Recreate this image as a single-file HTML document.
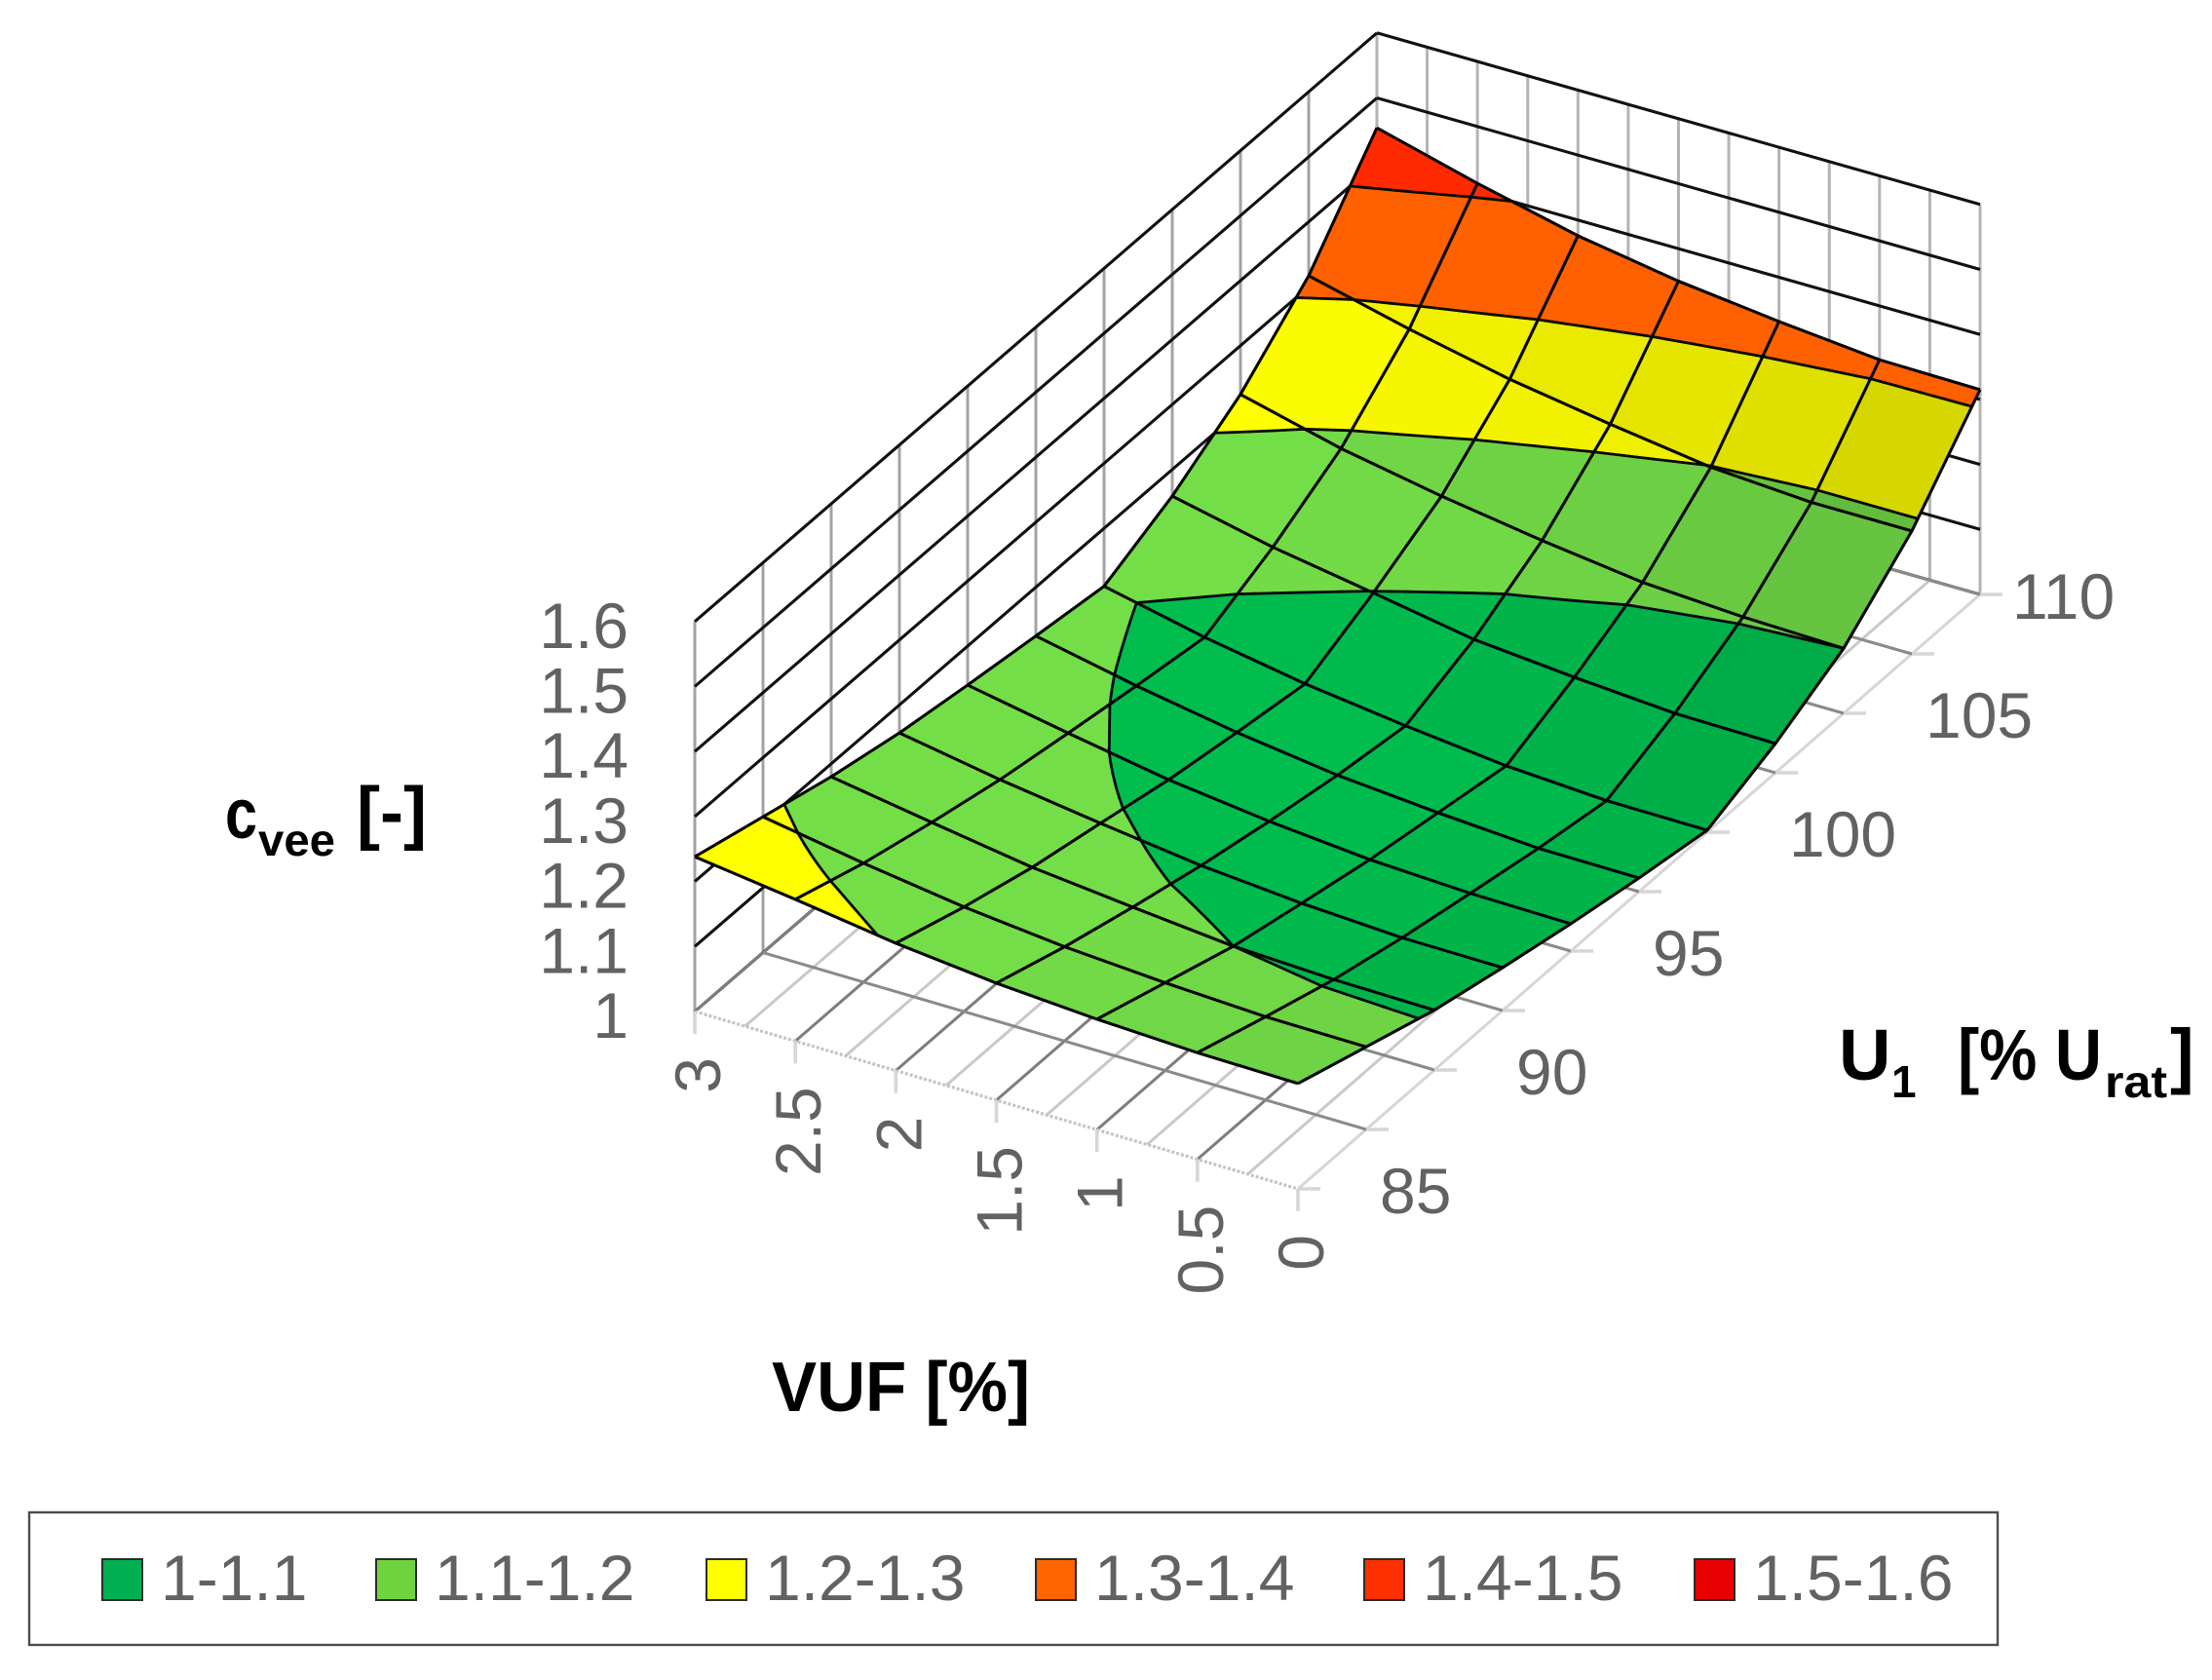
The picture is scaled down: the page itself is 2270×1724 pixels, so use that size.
<!DOCTYPE html>
<html lang="en">
<head>
<meta charset="utf-8">
<title>cvee surface chart</title>
<style>
  html, body { margin: 0; padding: 0; background: #ffffff; }
  body { width: 2270px; height: 1724px; overflow: hidden; }
  svg { display: block; font-family: "Liberation Sans", Arial, sans-serif; }
  .tick { fill: #626262; font-size: 66px; }
  .title { fill: #000000; font-weight: bold; }
</style>
</head>
<body>
<svg id="chart" xmlns="http://www.w3.org/2000/svg" width="2270" height="1724" viewBox="0 0 2270 1724">
  <g id="walls"></g>
  <g id="floor"></g>
  <g id="surface"></g>
  <g id="contours"></g>
  <g id="mesh"></g>
  <g id="labels"></g>

  <g>
    <text class="title" x="231" y="860" font-size="72" textLength="33" lengthAdjust="spacingAndGlyphs">c</text>
    <text class="title" x="265" y="878" font-size="46" textLength="79" lengthAdjust="spacingAndGlyphs">vee</text>
    <text class="title" x="366" y="858" font-size="72">[-]</text>
  </g>
  <text class="title" x="792" y="1448" font-size="72" textLength="265" lengthAdjust="spacingAndGlyphs">VUF [%]</text>
  <g>
    <text class="title" x="1887" y="1108" font-size="74">U</text>
    <text class="title" x="1941" y="1126" font-size="46">1</text>
    <text class="title" x="2009" y="1108" font-size="74" textLength="148" lengthAdjust="spacingAndGlyphs">[% U</text>
    <text class="title" x="2160" y="1126" font-size="46" textLength="64" lengthAdjust="spacingAndGlyphs">rat</text>
    <text class="title" x="2227" y="1108" font-size="74">]</text>
  </g>

  <rect x="30" y="1552" width="2020" height="136" fill="#ffffff" stroke="#4d4d4d" stroke-width="2.4"/>
  <g id="legend"></g>
</svg>

<script>
// ---- chart data ----
const vufValues = [0, 0.5, 1, 1.5, 2, 2.5, 3];
const voltageValues = [85, 87.5, 90, 92.5, 95, 97.5, 100, 102.5, 105, 107.5, 110];
const cveeAtVuf0   = [1.162, 1.127, 1.092, 1.066, 1.042, 1.021, 1.003, 1.045, 1.100, 1.189, 1.315];
const cveeAtVuf05  = [1.164, 1.128, 1.094, 1.067, 1.044, 1.022, 1.004, 1.047, 1.104, 1.189, 1.317];
const cveeAtVuf1   = [1.170, 1.135, 1.100, 1.075, 1.051, 1.032, 1.013, 1.058, 1.113, 1.199, 1.332];
const cveeAtVuf15  = [1.180, 1.145, 1.115, 1.088, 1.065, 1.045, 1.030, 1.072, 1.133, 1.221, 1.350];
const cveeAtVuf2   = [1.196, 1.161, 1.131, 1.108, 1.084, 1.066, 1.050, 1.099, 1.157, 1.246, 1.376];
const cveeAtVuf25  = [1.218, 1.183, 1.155, 1.130, 1.111, 1.093, 1.077, 1.125, 1.186, 1.279, 1.4125];
const cveeAtVuf3   = [1.238, 1.209, 1.180, 1.157, 1.140, 1.125, 1.111, 1.159, 1.225, 1.317, 1.454];
const cveeSeries = [cveeAtVuf0, cveeAtVuf05, cveeAtVuf1, cveeAtVuf15, cveeAtVuf2, cveeAtVuf25, cveeAtVuf3];

const zTickLabels = ["1", "1.1", "1.2", "1.3", "1.4", "1.5", "1.6"];
const vufTickLabels = ["0", "0.5", "1", "1.5", "2", "2.5", "3"];
const voltageTickLabels = ["85", "90", "95", "100", "105", "110"];
const vufGridValues = [0, 0.25, 0.5, 0.75, 1, 1.25, 1.5, 1.75, 2, 2.25, 2.5, 2.75, 3];
const bandEdges = [1, 1.1, 1.2, 1.3, 1.4, 1.5, 1.6];
const bandLabels = ["1-1.1", "1.1-1.2", "1.2-1.3", "1.3-1.4", "1.4-1.5", "1.5-1.6"];
const bandColors = [[0, 189, 78], [116, 222, 72], [255, 255, 0], [255, 96, 0], [255, 42, 0], [230, 0, 0]];
const legendColors = ["#00b050", "#6fd33f", "#ffff00", "#ff6600", "#ff3000", "#e60000"];

// ---- axis functions (projection; the far corner sits slightly lower) ----
function axisX(v, u) { return 1332 - 206.33 * v + 28 * (u - 85); }
function axisY(v, u, z) { return 1220 - 60.67 * v - 24.4 * (u - 85) - 667 * (z - 1) + 6 * (v / 3) * ((u - 85) / 25); }

const NS = "http://www.w3.org/2000/svg";
function make(tag, parentId, props) {
  const el = document.createElementNS(NS, tag);
  for (const k in props) el.setAttribute(k, props[k]);
  document.getElementById(parentId).appendChild(el);
  return el;
}
function pathLine(parentId, a, b, stroke, width, name, dash) {
  const el = make("line", parentId, { x1: a[0], y1: a[1], x2: b[0], y2: b[1], stroke: stroke, "stroke-width": width });
  if (dash) el.setAttribute("stroke-dasharray", dash);
  
  
  return el;
}
function pt(v, u, z) { return [axisX(v, u), axisY(v, u, z)]; }

const vMax = vufValues[vufValues.length - 1];
const uMin = voltageValues[0];
const uMax = voltageValues[voltageValues.length - 1];
const zMin = bandEdges[0];
const zMax = bandEdges[bandEdges.length - 1];

// ---- walls ----
voltageValues.forEach(function (u) {
  pathLine("walls", pt(vMax, u, zMin), pt(vMax, u, zMax), "#a3a3a3", 3, "left-wall-gridline-vertical");
});
vufGridValues.forEach(function (v) {
  pathLine("walls", pt(v, uMax, zMin), pt(v, uMax, zMax), "#b4b4b4", 3, "right-wall-gridline-vertical");
});
bandEdges.forEach(function (z) {
  pathLine("walls", pt(vMax, uMin, z), pt(vMax, uMax, z), "#111111", 3.1, "left-wall-gridline-horizontal");
  pathLine("walls", pt(vMax, uMax, z), pt(0, uMax, z), "#111111", 3.1, "right-wall-gridline-horizontal");
});

// ---- floor ----
vufGridValues.forEach(function (v, idx) {
  const major = idx % 2 === 0;
  const color = v === 0 ? "#d6d6d6" : (major ? "#7d7d7d" : "#c9c9c9");
  pathLine("floor", pt(v, uMin, zMin), pt(v, uMax, zMin), color, 3, "floor-gridline-vuf");
});
voltageValues.forEach(function (u) {
  if (u === uMin) {
    pathLine("floor", pt(vMax, u, zMin), pt(0, u, zMin), "#c4c4c4", 3.2, "floor-front-edge", "3 2");
  } else {
    pathLine("floor", pt(vMax, u, zMin), pt(0, u, zMin), "#8a8a8a", 3, "floor-gridline-voltage");
  }
  const p = pt(0, u, zMin);
  pathLine("floor", p, [p[0] + 23, p[1]], "#d6d6d6", 3.6, "voltage-axis-tick");
});
vufValues.forEach(function (v) {
  const p = pt(v, uMin, zMin);
  pathLine("floor", p, [p[0], p[1] + 23], "#d6d6d6", 3.6, "vuf-axis-tick");
});

// ---- surface helpers ----
function clip(poly, level, keepAbove) {
  const out = [];
  for (let i = 0; i < poly.length; i++) {
    const a = poly[i], b = poly[(i + 1) % poly.length];
    const aIn = keepAbove ? a.z >= level : a.z <= level;
    const bIn = keepAbove ? b.z >= level : b.z <= level;
    if (aIn) out.push(a);
    if (aIn !== bIn) {
      const t = (level - a.z) / (b.z - a.z);
      out.push({ v: a.v + t * (b.v - a.v), u: a.u + t * (b.u - a.u), z: level });
    }
  }
  return out;
}
function cellCorners(i, j) {
  return [
    { v: vufValues[i], u: voltageValues[j], z: cveeSeries[i][j] },
    { v: vufValues[i], u: voltageValues[j + 1], z: cveeSeries[i][j + 1] },
    { v: vufValues[i + 1], u: voltageValues[j + 1], z: cveeSeries[i + 1][j + 1] },
    { v: vufValues[i + 1], u: voltageValues[j], z: cveeSeries[i + 1][j] }
  ];
}
function cellShade(c) {
  const dzdv = (c[3].z + c[2].z - c[0].z - c[1].z) / 2;
  const dzdu = (c[1].z + c[2].z - c[0].z - c[3].z) / 2;
  return Math.max(0.8, Math.min(1, 0.95 + 3 * dzdv - 0.85 * Math.max(0, dzdu)));
}
// split a cell into bilinear sub-quads so band borders curve smoothly inside it
function subCells(c) {
  const lo = Math.min(c[0].z, c[1].z, c[2].z, c[3].z);
  const hi = Math.max(c[0].z, c[1].z, c[2].z, c[3].z);
  const crosses = bandEdges.some(function (L) { return lo < L && hi > L; });
  if (!crosses) return [c];
  const N = 8, out = [];
  function at(s, t) {
    return {
      v: c[0].v + t * (c[3].v - c[0].v),
      u: c[0].u + s * (c[1].u - c[0].u),
      z: (1 - s) * (1 - t) * c[0].z + s * (1 - t) * c[1].z + s * t * c[2].z + (1 - s) * t * c[3].z
    };
  }
  for (let a = 0; a < N; a++) {
    for (let b = 0; b < N; b++) {
      out.push([at(a / N, b / N), at((a + 1) / N, b / N), at((a + 1) / N, (b + 1) / N), at(a / N, (b + 1) / N)]);
    }
  }
  return out;
}

// ---- surface bands, back to front ----
for (let j = voltageValues.length - 2; j >= 0; j--) {
  for (let i = vufValues.length - 2; i >= 0; i--) {
    const cell = cellCorners(i, j);
    const shade = cellShade(cell);
    subCells(cell).forEach(function (sub) {
      for (let b = 0; b < bandColors.length; b++) {
        let poly = clip(sub, bandEdges[b], true);
        if (poly.length) poly = clip(poly, bandEdges[b + 1], false);
        if (poly.length < 3) continue;
        const f = b < 3 ? shade : 1;
        const col = bandColors[b];
        const rgb = "rgb(" + Math.round(col[0] * f) + "," + Math.round(col[1] * f) + "," + Math.round(col[2] * f) + ")";
        const points = poly.map(function (p) { return axisX(p.v, p.u).toFixed(1) + "," + axisY(p.v, p.u, p.z).toFixed(1); }).join(" ");
        const el = make("polygon", "surface", { points: points, fill: rgb, stroke: rgb, "stroke-width": 0.8 });
        
        
      }
    });
  }
}

// ---- contour lines between bands ----
for (let b = 1; b < bandEdges.length - 1; b++) {
  const level = bandEdges[b];
  for (let j = 0; j < voltageValues.length - 1; j++) {
    for (let i = 0; i < vufValues.length - 1; i++) {
      subCells(cellCorners(i, j)).forEach(function (c) {
        const hits = [];
        for (let e = 0; e < 4; e++) {
          const p = c[e], q = c[(e + 1) % 4];
          if ((p.z < level) !== (q.z < level)) {
            const t = (level - p.z) / (q.z - p.z);
            hits.push(pt(p.v + t * (q.v - p.v), p.u + t * (q.u - p.u), level));
          }
        }
        for (let h = 0; h + 1 < hits.length; h += 2) {
          const seg = pathLine("contours", hits[h], hits[h + 1], "#0a0a0a", 2.8, "contour-line");
          seg.setAttribute("stroke-linecap", "round");
        }
      });
    }
  }
}

// ---- mesh lines ----
function meshPolyline(points, name) {
  const el = make("polyline", "mesh", {
    points: points.map(function (p) { return p[0].toFixed(1) + "," + p[1].toFixed(1); }).join(" "),
    fill: "none", stroke: "#050505", "stroke-width": 3.1, "stroke-linejoin": "round"
  });
  
  
}
vufValues.forEach(function (v, i) {
  meshPolyline(voltageValues.map(function (u, j) { return pt(v, u, cveeSeries[i][j]); }), "surface-mesh-line-vuf");
});
voltageValues.forEach(function (u, j) {
  meshPolyline(vufValues.map(function (v, i) { return pt(v, u, cveeSeries[i][j]); }), "surface-mesh-line-voltage");
});

// ---- tick labels ----
zTickLabels.forEach(function (label) {
  const z = parseFloat(label);
  const el = make("text", "labels", { class: "tick", x: 645, y: (axisY(vMax, uMin, z) + 27).toFixed(1), "text-anchor": "end" });
  el.textContent = label;
  
  
});
vufTickLabels.forEach(function (label) {
  const v = parseFloat(label);
  const x = axisX(v, uMin) + 26;
  const y = axisY(v, uMin, zMin) + 47;
  const el = make("text", "labels", { class: "tick", x: 0, y: 0, "text-anchor": "end", transform: "translate(" + x.toFixed(1) + "," + y.toFixed(1) + ") rotate(-90)" });
  el.textContent = label;
  
  
});
voltageTickLabels.forEach(function (label) {
  const u = parseFloat(label);
  const dx = u === uMax ? 33 : 84;
  const el = make("text", "labels", { class: "tick", x: (axisX(0, u) + dx).toFixed(1), y: (axisY(0, u, zMin) + 25).toFixed(1) });
  el.textContent = label;
  
  
});

// ---- legend ----
const legendStep = [0, 281, 620, 958, 1295, 1634];
bandLabels.forEach(function (label, i) {
  const x = 105 + legendStep[i];
  const sw = make("rect", "legend", { x: x, y: 1600, width: 41, height: 42, fill: legendColors[i], stroke: "#2b2b2b", "stroke-width": 2 });
  
  
  const tx = make("text", "legend", { class: "tick", x: x + 60, y: 1642 });
  tx.textContent = label;
  
  
});
</script>
</body>
</html>
